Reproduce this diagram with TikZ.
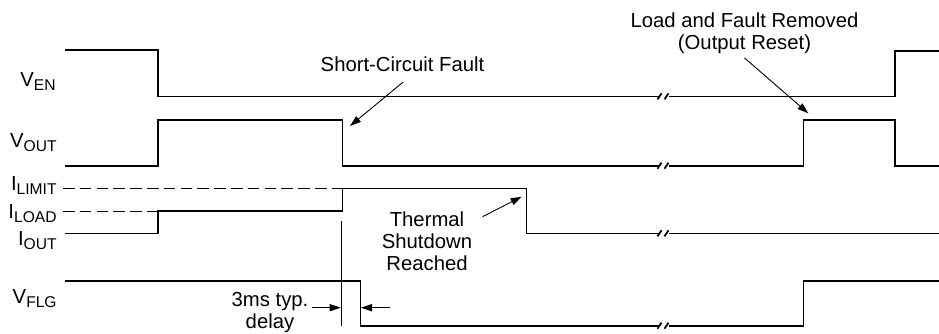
\documentclass[tikz,border=0pt]{standalone}
\usepackage{fontspec}
\setmainfont{Liberation Sans}
\usetikzlibrary{arrows.meta}
\newcommand{\sgn}[2]{#1\raisebox{-2pt}{\fontsize{7.8pt}{8pt}\selectfont #2}}
\newcommand{\rows}[1]{\begin{tabular}[t]{@{}c@{}}#1\end{tabular}}

\begin{document}
\begin{tikzpicture}[
  x=0.5pt, y=-0.5pt,
  every node/.append style={font=\fontsize{10.15pt}{11pt}\selectfont},
  wave/.style={line width=0.8pt, line join=miter},
  guide/.style={line width=0.45pt, dash pattern=on 5.8pt off 2.6pt},
  thinline/.style={line width=0.45pt},
  pointer/.style={line width=0.45pt, -{Triangle[length=5.5pt,width=3.6pt]}},
  brk/.style={line width=0.9pt},
  signame/.style={anchor=base east, inner sep=0pt},
  note/.style={anchor=base, inner sep=0pt},
]
\useasboundingbox (0,0) rectangle (939,333);

\node[signame] (ven)   at (56,86)    {\sgn{V}{EN}};
\node[signame] (vout)  at (57,147.7) {\sgn{V}{OUT}};
\node[signame] (ilim)  at (57,190)   {\sgn{I}{LIMIT}};
\node[signame] (iload) at (57,218.3) {\sgn{I}{LOAD}};
\node[signame] (iout)  at (57,245)   {\sgn{I}{OUT}};
\node[signame] (vflg)  at (57,303)   {\sgn{V}{FLG}};

\draw[wave] (65,50) -- (157.7,50) -- (157.7,96.3) -- (659,96.3)
            (669,96.3) -- (894.7,96.3) -- (894.7,51) -- (940,51);
\draw[wave] (65,165.7) -- (157.7,165.7) -- (157.7,120) -- (342.3,120) -- (342.3,165.7) -- (659,165.7)
            (669,165.7) -- (803.3,165.7) -- (803.3,120) -- (894.7,120) -- (894.7,165.7) -- (940,165.7);
\draw[wave] (65,233.3) -- (157.7,233.3) -- (157.7,211) -- (342.3,211) -- (342.3,188.3) -- (526.6,188.3)
            -- (526.6,233.3) -- (659,233.3) (669,233.3) -- (940,233.3);
\draw[wave] (65,281) -- (360.5,281) -- (360.5,325.7) -- (659,325.7)
            (669,325.7) -- (803.3,325.7) -- (803.3,281) -- (940,281);

\draw[guide] (63,188.3) -- (342.3,188.3);
\draw[guide] (63,211) -- (157.7,211);

\foreach \y in {96.3,165.7,233.3,325.7}{
  \draw[brk] (657.5,\y+3) -- (661.5,\y-3);
  \draw[brk] (664.5,\y+3) -- (668.5,\y-3);
}

\draw[thinline] (341.2,221) -- (341.2,325.7);

\node[note] (scf) at (402.5,71.5) {Short-Circuit Fault};
\coordinate (sctip) at (350,126);
\draw[pointer] ([xshift=0.3pt,yshift=-5pt]scf.south) -- (sctip);

\node[note] (reset) at (744.5,27.5) {\rows{Load and Fault Removed\\(Output Reset)}};
\coordinate (resettip) at (808.3,113.3);
\draw[pointer] ([yshift=-0.7pt]reset.south) -- (resettip);

\node[note] (tsd) at (427,226.5) {\rows{Thermal\\Shutdown\\Reached}};
\coordinate (tsdtip) at (521.7,196.7);
\draw[pointer] ([xshift=5pt,yshift=-3pt]tsd.north east) -- (tsdtip);

\node[note] (dly) at (270,306.7) {\rows{3ms typ.\\delay}};
\coordinate (dlyl) at (311.7,307.7);
\coordinate (dlyr) at (390,307.7);
\coordinate (mkl) at (340.7,307.7);
\coordinate (mkr) at (361,307.7);
\draw[pointer] (dlyl) -- (mkl);
\draw[pointer] (dlyr) -- (mkr);
\end{tikzpicture}
\end{document}
